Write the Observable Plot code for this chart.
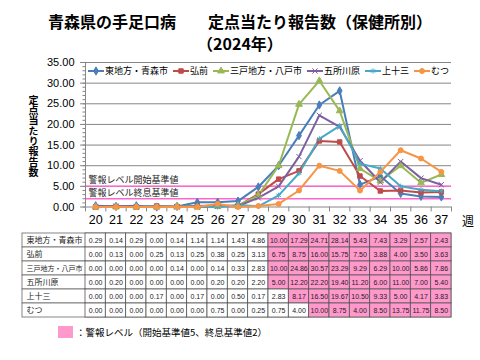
<!DOCTYPE html>
<html><head><meta charset="utf-8">
<script src="https://cdn.jsdelivr.net/npm/d3@7"></script>
<script src="https://cdn.jsdelivr.net/npm/@observablehq/plot@0.6"></script>
<style>
body{margin:0;background:#fff;font-family:"Noto Sans CJK JP","Noto Sans",sans-serif;}
#wrap{position:relative;width:480px;height:360px;overflow:hidden;background:#fff;}
#wrap svg{position:absolute;left:0;background:transparent !important;}
.t{position:absolute;color:#000;white-space:nowrap;}
</style></head><body><div id="wrap"></div>
<script>
// ---- data ----
const weeks = [20,21,22,23,24,25,26,27,28,29,30,31,32,33,34,35,36,37];
const names = ["東地方・青森市","弘前","三戸地方・八戸市","五所川原","上十三","むつ"];
const aomori   = [0.29,0.14,0.29,0.00,0.14,1.14,1.14,1.43,4.86,10.00,17.29,24.71,28.14,5.43,7.43,3.29,2.57,2.43];
const hirosaki = [0.00,0.13,0.00,0.25,0.13,0.25,0.38,0.25,3.13,6.75,8.75,16.00,15.75,7.50,3.88,4.00,3.50,3.63];
const hachinohe= [0.00,0.00,0.00,0.00,0.14,0.00,0.14,0.33,2.83,10.00,24.86,30.57,23.29,9.29,6.29,10.00,5.86,7.86];
const goshogawara=[0.00,0.20,0.00,0.00,0.00,0.00,0.20,0.20,2.20,5.00,12.20,22.20,19.40,11.20,6.00,11.00,7.00,5.40];
const kamitosa = [0.00,0.00,0.00,0.17,0.00,0.17,0.00,0.50,0.17,2.83,8.17,16.50,19.67,10.50,9.33,5.00,4.17,3.83];
const mutsu    = [0.00,0.00,0.00,0.00,0.00,0.00,0.75,0.00,0.25,0.75,4.00,10.00,8.75,4.00,8.50,13.75,11.75,8.50];
const seriesValues = [aomori,hirosaki,hachinohe,goshogawara,kamitosa,mutsu];
const colors = ["#4A7EBB","#BE4B48","#98B954","#7D60A0","#46AAC5","#F69545"];
const symbols = ["diamond","square","triangle","times","asterisk","circle"];
const alertStart = 5, alertEnd = 2;
const thresholds = [alertStart, alertEnd];
const thresholdLabels = ["警報レベル開始基準値","警報レベル終息基準値"];
const yTicks = [0,5,10,15,20,25,30,35];
const yMinor = d3.range(0,36,1);
const titleLine1 = "青森県の手足口病　　定点当たり報告数（保健所別）";
const titleLine2 = "（2024年）";
const yTitle = "定点当たり報告数";
const weekUnit = "週";
const legendNote = "：警報レベル（開始基準値5、終息基準値2）";

// ---- build rows ----
const rows = [];
names.forEach((name, i) => {
  let on = false;
  seriesValues[i].forEach((v, j) => {
    if (!on && v >= alertStart) on = true;
    else if (on && v < alertEnd) on = false;
    rows.push({name, week: weeks[j], value: v, alert: on});
  });
});

const wrap = document.getElementById("wrap");
const xDomain = [d3.min(weeks) - 0.5, d3.max(weeks) + 0.5];
const boundaries = [...weeks.map(w => w - 0.5), d3.max(weeks) + 0.5];
const axisGray = "#868686";

const chart = Plot.plot({
  width: 480, height: 230,
  marginTop: 62, marginBottom: 23.5, marginLeft: 85, marginRight: 29,
  x: {type: "linear", domain: xDomain, axis: null},
  y: {domain: [0, 35], axis: null},
  color: {domain: names, range: colors},
  symbol: {domain: names, range: symbols},
  style: {fontFamily: "'Liberation Sans', Arial, sans-serif", background: "transparent", color: "#000"},
  marks: [
    Plot.ruleY(yTicks.filter(d => d > 0), {stroke: axisGray, strokeWidth: 1}),
    Plot.ruleY(thresholds, {stroke: "#FF66CC", strokeWidth: 1.5}),
    Plot.text(thresholdLabels, {y: thresholds, text: d => d, frameAnchor: "left", textAnchor: "start", dx: 3, dy: -6, fontSize: 9, fill: "#222", fontFamily: "'Noto Sans CJK JP'"}),
    Plot.ruleY([0], {stroke: axisGray}),
    Plot.ruleX([xDomain[0]], {stroke: axisGray}),
    Plot.ruleX(boundaries, {y1: 0, y2: -1.2, stroke: axisGray}),
    Plot.axisY({ticks: yMinor, tickSize: 2.5, tickFormat: () => "", stroke: axisGray, label: null}),
    Plot.axisY({ticks: yTicks, tickSize: 5, tickPadding: 6, tickFormat: d => d.toFixed(2), fontSize: 11, stroke: axisGray, fill: "#000", label: null}),
    Plot.axisX({ticks: weeks, tickSize: 0, tickPadding: 8, tickFormat: d => String(d), fontSize: 12.5, fill: "#000", label: null}),
    Plot.line(rows, {x: "week", y: "value", z: "name", stroke: "name", strokeWidth: 2}),
    Plot.dot(rows, {x: "week", y: "value", symbol: "name", fill: "name", stroke: "name", r: 2.5, strokeWidth: 1})
  ]
});
chart.style.top = "0px";
wrap.appendChild(chart);

const table = Plot.plot({
  width: 480, height: 95,
  marginTop: 5, marginBottom: 6, marginLeft: 22, marginRight: 29,
  x: {type: "linear", domain: xDomain, range: [85, 451], axis: null},
  y: {domain: names, padding: 0, axis: null},
  style: {fontFamily: "'Liberation Sans', Arial, sans-serif", background: "transparent", color: "#222"},
  marks: [
    Plot.cell(names, {y: d => d, fill: "white", stroke: "#666", strokeWidth: 0.8}),
    Plot.text(names.filter(d => d.length < 8), {y: d => d, text: d => d, frameAnchor: "left", textAnchor: "start", dx: 4, fontSize: 8, fontFamily: "'Noto Sans CJK JP'", fill: "#222"}),
    Plot.text(names.filter(d => d.length >= 8), {y: d => d, text: d => d, frameAnchor: "left", textAnchor: "start", dx: 4, fontSize: 7, fontFamily: "'Noto Sans CJK JP'", fill: "#222"}),
    Plot.barX(rows, {x1: d => d.week - 0.5, x2: d => d.week + 0.5, y: "name", fill: d => d.alert ? "#FF99CC" : "white", stroke: "#555", strokeWidth: 0.8}),
    Plot.text(rows, {x: "week", y: "name", text: d => d.value.toFixed(2), fontSize: 7, fill: "#222"})
  ]
});
table.style.top = "228px";
wrap.appendChild(table);

// ---- texts ----
function addText(txt, css) {
  const d = document.createElement("div");
  d.className = "t"; d.textContent = txt;
  Object.assign(d.style, css);
  wrap.appendChild(d);
  return d;
}
addText(titleLine1, {left: "0", width: "480px", textAlign: "center", top: "10px", fontSize: "16px", fontWeight: "bold", lineHeight: "22px"});
addText(titleLine2, {left: "0", width: "480px", textAlign: "center", top: "32px", fontSize: "16px", fontWeight: "bold", lineHeight: "22px"});
addText(yTitle, {left: "28px", top: "95px", fontSize: "10px", fontWeight: "bold", writingMode: "vertical-rl", textOrientation: "upright", letterSpacing: "0.3px", lineHeight: "10px"});
addText(weekUnit, {left: "462px", top: "213px", fontSize: "12px", lineHeight: "16px"});

// chart legend
const leg = document.createElement("div");
Object.assign(leg.style, {position: "absolute", left: "88px", top: "64px", display: "flex", alignItems: "center", gap: "5px", fontSize: "9px", lineHeight: "14px"});
const symMap = {diamond: d3.symbolDiamond, square: d3.symbolSquare, triangle: d3.symbolTriangle, times: d3.symbolTimes, asterisk: d3.symbolAsterisk, circle: d3.symbolCircle};
names.forEach((n, i) => {
  const it = document.createElement("span");
  Object.assign(it.style, {display: "inline-flex", alignItems: "center"});
  const path = d3.symbol(symMap[symbols[i]], Math.PI * 2.5 * 2.5)();
  const filled = !(symbols[i] === "times" || symbols[i] === "asterisk");
  it.innerHTML = `<svg width="16" height="10" style="position:static"><line x1="0" x2="16" y1="5" y2="5" stroke="${colors[i]}" stroke-width="2"/><path transform="translate(8,5)" d="${path}" fill="${filled ? colors[i] : "none"}" stroke="${colors[i]}" stroke-width="1"/></svg><span style="margin-left:1px">${n}</span>`;
  leg.appendChild(it);
});
wrap.appendChild(leg);

// bottom legend
const sw = document.createElement("div");
Object.assign(sw.style, {position: "absolute", left: "58px", top: "326px", width: "15px", height: "12px", background: "#FF99CC"});
wrap.appendChild(sw);
addText(legendNote, {left: "76px", top: "324px", fontSize: "9.5px", lineHeight: "16px"});
</script></body></html>
